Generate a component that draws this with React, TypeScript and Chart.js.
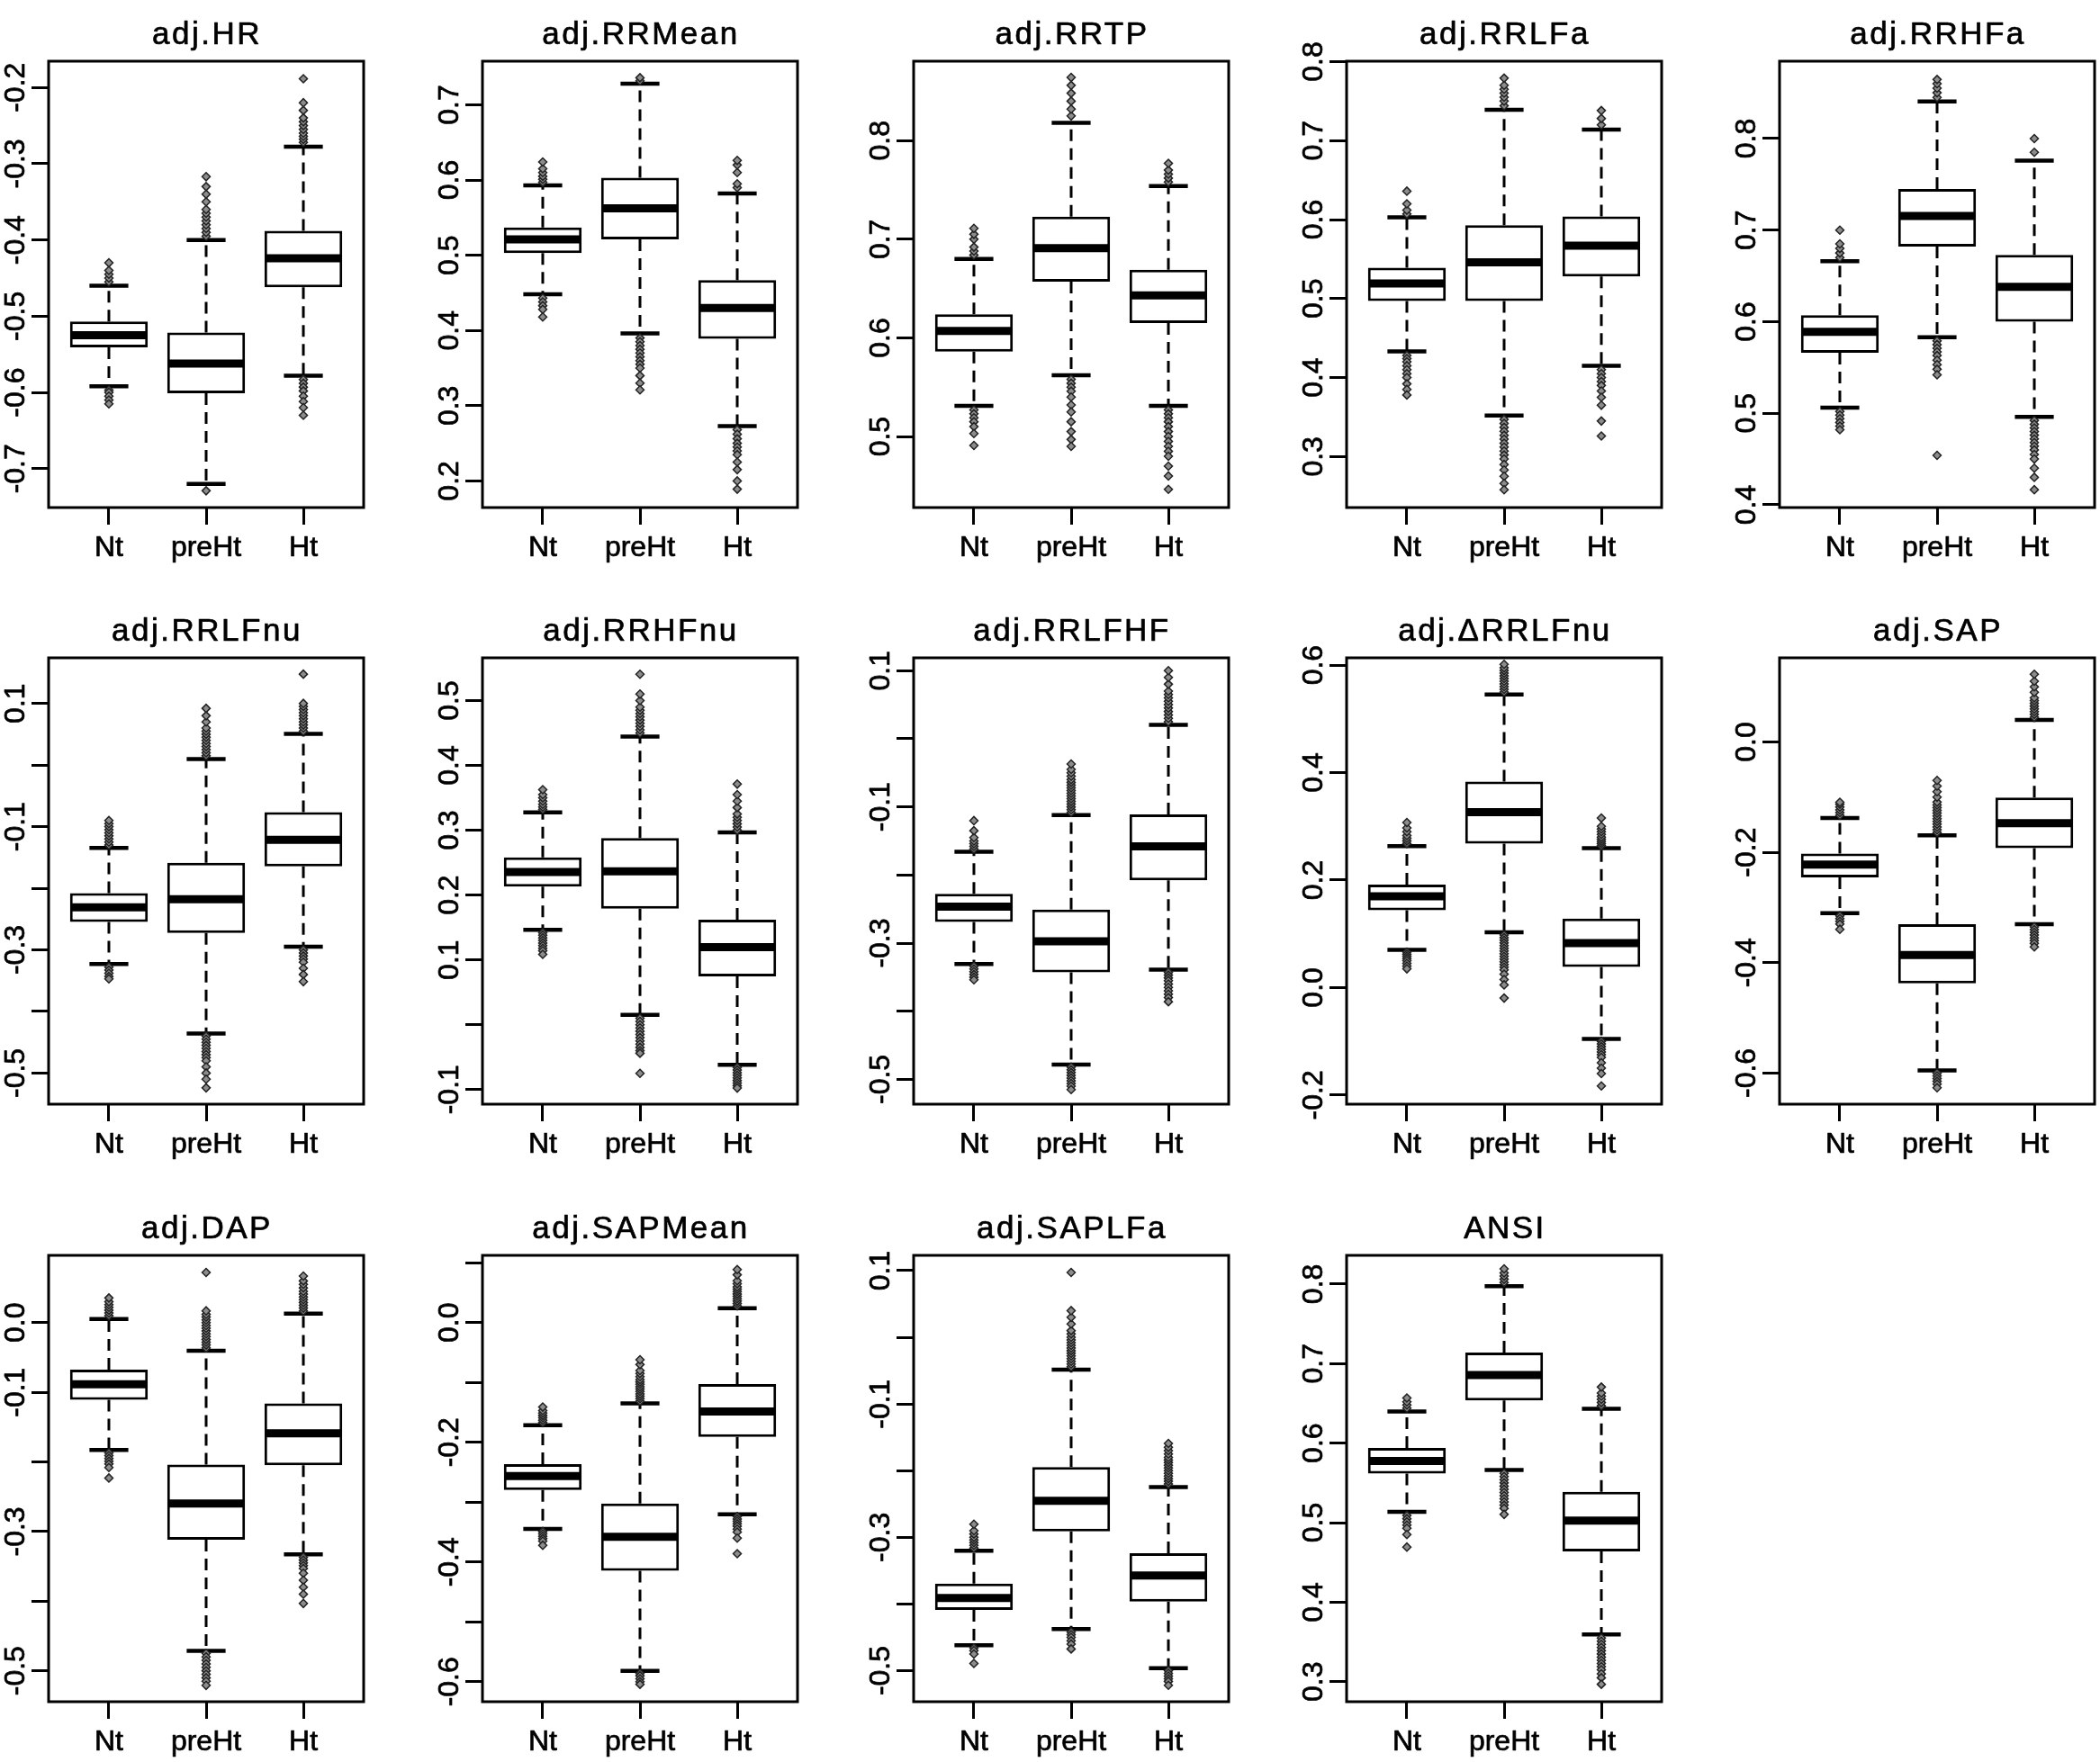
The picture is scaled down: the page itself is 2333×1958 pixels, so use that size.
import { useEffect, useRef } from 'react';
import { Chart, registerables } from 'chart.js';

Chart.register(...registerables);

const groups = ['Nt', 'preHt', 'Ht'];

const titles = [
  'adj.HR', 'adj.RRMean', 'adj.RRTP', 'adj.RRLFa', 'adj.RRHFa',
  'adj.RRLFnu', 'adj.RRHFnu', 'adj.RRLFHF', 'adj.ΔRRLFnu', 'adj.SAP',
  'adj.DAP', 'adj.SAPMean', 'adj.SAPLFa', 'ANSI',
];

const yMin = [-0.751, 0.1646, 0.428, 0.2355, 0.397, -0.5505, -0.1226, -0.5364, -0.217, -0.6564, -0.5444, -0.6334, -0.5465, 0.2749];
const yMax = [-0.1655, 0.758, 0.8805, 0.8005, 0.8845, 0.174, 0.566, 0.1188, 0.6136, 0.1525, 0.0967, 0.1125, 0.1229, 0.8361];

const yTicks = [
  [-0.7, -0.6, -0.5, -0.4, -0.3, -0.2],
  [0.2, 0.3, 0.4, 0.5, 0.6, 0.7],
  [0.5, 0.6, 0.7, 0.8],
  [0.3, 0.4, 0.5, 0.6, 0.7, 0.8],
  [0.4, 0.5, 0.6, 0.7, 0.8],
  [-0.5, -0.4, -0.3, -0.2, -0.1, 0, 0.1],
  [-0.1, 0, 0.1, 0.2, 0.3, 0.4, 0.5],
  [-0.5, -0.4, -0.3, -0.2, -0.1, 0, 0.1],
  [-0.2, 0, 0.2, 0.4, 0.6],
  [-0.6, -0.4, -0.2, 0],
  [-0.5, -0.4, -0.3, -0.2, -0.1, 0],
  [-0.6, -0.5, -0.4, -0.3, -0.2, -0.1, 0, 0.1],
  [-0.5, -0.4, -0.3, -0.2, -0.1, 0, 0.1],
  [0.3, 0.4, 0.5, 0.6, 0.7, 0.8],
];

const yTickLabels = [
  [-0.7, -0.6, -0.5, -0.4, -0.3, -0.2],
  [0.2, 0.3, 0.4, 0.5, 0.6, 0.7],
  [0.5, 0.6, 0.7, 0.8],
  [0.3, 0.4, 0.5, 0.6, 0.7, 0.8],
  [0.4, 0.5, 0.6, 0.7, 0.8],
  [-0.5, -0.3, -0.1, 0.1],
  [-0.1, 0.1, 0.2, 0.3, 0.4, 0.5],
  [-0.5, -0.3, -0.1, 0.1],
  [-0.2, 0, 0.2, 0.4, 0.6],
  [-0.6, -0.4, -0.2, 0],
  [-0.5, -0.3, -0.1, 0],
  [-0.6, -0.4, -0.2, 0],
  [-0.5, -0.3, -0.1, 0.1],
  [0.3, 0.4, 0.5, 0.6, 0.7, 0.8],
];

// per panel: [Nt, preHt, Ht]
const lowerWhisker = [
  [-0.592, -0.72, -0.578],
  [0.448, 0.396, 0.273],
  [0.531, 0.562, 0.531],
  [0.433, 0.352, 0.415],
  [0.506, 0.583, 0.496],
  [-0.323, -0.436, -0.295],
  [0.1463, 0.0153, -0.062],
  [-0.3307, -0.4784, -0.3388],
  [0.0703, 0.103, -0.0958],
  [-0.3103, -0.5954, -0.3302],
  [-0.1829, -0.4713, -0.3328],
  [-0.3447, -0.5818, -0.3204],
  [-0.4619, -0.4374, -0.4963],
  [0.5136, 0.5662, 0.3595],
];

const lowerQuartile = [
  [-0.541, -0.601, -0.462],
  [0.503, 0.521, 0.389],
  [0.586, 0.657, 0.615],
  [0.497, 0.497, 0.528],
  [0.566, 0.682, 0.6],
  [-0.2547, -0.2725, -0.1644],
  [0.213, 0.1791, 0.0746],
  [-0.269, -0.343, -0.2077],
  [0.1438, 0.2677, 0.0383],
  [-0.2453, -0.4376, -0.1923],
  [-0.1108, -0.3119, -0.2048],
  [-0.2796, -0.4146, -0.1909],
  [-0.409, -0.2912, -0.3965],
  [0.5617, 0.6536, 0.4638],
];

const medians = [
  [-0.525, -0.562, -0.424],
  [0.521, 0.5625, 0.43],
  [0.607, 0.691, 0.643],
  [0.519, 0.546, 0.567],
  [0.589, 0.7155, 0.638],
  [-0.231, -0.218, -0.1216],
  [0.2356, 0.2367, 0.1198],
  [-0.2464, -0.2974, -0.1578],
  [0.1697, 0.3263, 0.0826],
  [-0.2221, -0.3859, -0.1472],
  [-0.0883, -0.2597, -0.1588],
  [-0.2565, -0.358, -0.1483],
  [-0.391, -0.2453, -0.3572],
  [0.5777, 0.6856, 0.5027],
];

const upperQuartile = [
  [-0.507, -0.5215, -0.388],
  [0.537, 0.603, 0.467],
  [0.624, 0.723, 0.669],
  [0.539, 0.593, 0.604],
  [0.607, 0.745, 0.673],
  [-0.2078, -0.1585, -0.0765],
  [0.2582, 0.2881, 0.1621],
  [-0.2276, -0.2507, -0.111],
  [0.1915, 0.3835, 0.1282],
  [-0.2022, -0.3302, -0.1008],
  [-0.0674, -0.2038, -0.116],
  [-0.2365, -0.3021, -0.1027],
  [-0.3692, -0.1946, -0.3239],
  [0.5941, 0.714, 0.5388],
];

const upperWhisker = [
  [-0.46, -0.4, -0.2775],
  [0.593, 0.728, 0.582],
  [0.68, 0.818, 0.754],
  [0.603, 0.739, 0.714],
  [0.666, 0.8406, 0.776],
  [-0.1347, 0.0097, 0.0507],
  [0.3277, 0.4446, 0.2966],
  [-0.1658, -0.1121, 0.0205],
  [0.263, 0.5455, 0.2596],
  [-0.1379, -0.1691, 0.0398],
  [0.0052, -0.0402, 0.0131],
  [-0.1714, -0.135, 0.0243],
  [-0.32, -0.0484, -0.2246],
  [0.6399, 0.7973, 0.6431],
];

const highOutliers = [
  [
    [-0.455, -0.45, -0.445, -0.44, -0.43],
    [-0.395, -0.39, -0.385, -0.38, -0.375, -0.37, -0.365, -0.36, -0.35, -0.34, -0.33, -0.317],
    [-0.272, -0.268, -0.264, -0.26, -0.255, -0.25, -0.245, -0.24, -0.23, -0.22, -0.1885],
  ],
  [
    [0.597, 0.601, 0.605, 0.61, 0.615, 0.624],
    [0.732, 0.736],
    [0.59, 0.595, 0.61, 0.62, 0.626],
  ],
  [
    [0.684, 0.688, 0.692, 0.7, 0.705, 0.711],
    [0.825, 0.832, 0.84, 0.848, 0.856, 0.864],
    [0.758, 0.762, 0.766, 0.77, 0.777],
  ],
  [
    [0.607, 0.612, 0.62, 0.636],
    [0.744, 0.75, 0.755, 0.76, 0.765, 0.77, 0.779],
    [0.72, 0.728, 0.738],
  ],
  [
    [0.67, 0.675, 0.68, 0.685, 0.7],
    [0.845, 0.85, 0.855, 0.86, 0.8645],
    [0.785, 0.8],
  ],
  [
    [-0.13, -0.125, -0.12, -0.115, -0.11, -0.105, -0.1, -0.095, -0.09],
    [0.015, 0.02, 0.025, 0.03, 0.035, 0.04, 0.045, 0.05, 0.055, 0.06, 0.07, 0.08, 0.092],
    [0.055, 0.06, 0.065, 0.07, 0.075, 0.08, 0.085, 0.09, 0.095, 0.1, 0.1475],
  ],
  [
    [0.332, 0.336, 0.34, 0.345, 0.35, 0.355, 0.3627],
    [0.45, 0.455, 0.46, 0.465, 0.47, 0.475, 0.48, 0.485, 0.49, 0.5, 0.51, 0.5407],
    [0.3, 0.305, 0.31, 0.315, 0.32, 0.325, 0.335, 0.345, 0.355, 0.3712],
  ],
  [
    [-0.162, -0.158, -0.154, -0.15, -0.145, -0.135, -0.1202],
    [-0.108, -0.104, -0.1, -0.096, -0.092, -0.088, -0.084, -0.08, -0.076, -0.072, -0.068, -0.064, -0.06, -0.055, -0.05, -0.045, -0.037],
    [0.025, 0.03, 0.035, 0.04, 0.045, 0.05, 0.055, 0.06, 0.065, 0.07, 0.08, 0.09, 0.1],
  ],
  [
    [0.268, 0.273, 0.278, 0.283, 0.29, 0.297, 0.3072],
    [0.55, 0.555, 0.56, 0.565, 0.57, 0.575, 0.58, 0.585, 0.59, 0.595, 0.6014],
    [0.264, 0.268, 0.272, 0.276, 0.28, 0.285, 0.29, 0.295, 0.3, 0.3154],
  ],
  [
    [-0.133, -0.128, -0.123, -0.118, -0.113, -0.1094],
    [-0.164, -0.159, -0.154, -0.149, -0.144, -0.139, -0.134, -0.129, -0.124, -0.119, -0.114, -0.109, -0.1, -0.09, -0.08, -0.0696],
    [0.045, 0.05, 0.055, 0.06, 0.065, 0.07, 0.075, 0.08, 0.09, 0.1, 0.11, 0.1227],
  ],
  [
    [0.01, 0.014, 0.018, 0.022, 0.026, 0.03, 0.0355],
    [-0.036, -0.032, -0.028, -0.024, -0.02, -0.016, -0.012, -0.008, -0.004, 0, 0.004, 0.008, 0.012, 0.017, 0.0721],
    [0.017, 0.021, 0.025, 0.029, 0.033, 0.037, 0.041, 0.045, 0.05, 0.055, 0.06, 0.0669],
  ],
  [
    [-0.167, -0.163, -0.159, -0.155, -0.151, -0.147, -0.141],
    [-0.131, -0.127, -0.123, -0.119, -0.115, -0.111, -0.107, -0.103, -0.099, -0.095, -0.09, -0.085, -0.08, -0.07, -0.062],
    [0.028, 0.032, 0.036, 0.04, 0.044, 0.048, 0.052, 0.056, 0.06, 0.065, 0.07, 0.08, 0.0888],
  ],
  [
    [-0.316, -0.312, -0.308, -0.304, -0.3, -0.295, -0.29, -0.2803],
    [-0.044, -0.04, -0.036, -0.032, -0.028, -0.024, -0.02, -0.016, -0.012, -0.008, -0.004, 0, 0.005, 0.01, 0.02, 0.03, 0.04, 0.0973],
    [-0.22, -0.216, -0.212, -0.208, -0.204, -0.2, -0.196, -0.192, -0.188, -0.184, -0.18, -0.175, -0.17, -0.165, -0.1591],
  ],
  [
    [0.644, 0.648, 0.652, 0.6568],
    [0.802, 0.806, 0.81, 0.814, 0.8192],
    [0.647, 0.651, 0.655, 0.659, 0.663, 0.6705],
  ],
];

const lowOutliers = [
  [
    [-0.597, -0.6, -0.605, -0.61, -0.615],
    [-0.729],
    [-0.583, -0.588, -0.593, -0.598, -0.605, -0.612, -0.62, -0.63],
  ],
  [
    [0.443, 0.438, 0.433, 0.428, 0.418],
    [0.39, 0.385, 0.38, 0.375, 0.37, 0.365, 0.36, 0.355, 0.35, 0.34, 0.33, 0.321],
    [0.268, 0.262, 0.256, 0.25, 0.245, 0.24, 0.235, 0.225, 0.215, 0.2, 0.189],
  ],
  [
    [0.527, 0.523, 0.519, 0.515, 0.51, 0.503, 0.491],
    [0.558, 0.554, 0.55, 0.546, 0.54, 0.532, 0.525, 0.515, 0.505, 0.497, 0.49],
    [0.527, 0.523, 0.519, 0.515, 0.51, 0.505, 0.5, 0.495, 0.49, 0.485, 0.48, 0.47, 0.46, 0.4465],
  ],
  [
    [0.428, 0.424, 0.42, 0.415, 0.41, 0.405, 0.4, 0.392, 0.385, 0.378],
    [0.347, 0.342, 0.337, 0.332, 0.327, 0.322, 0.317, 0.312, 0.307, 0.302, 0.297, 0.29, 0.283, 0.275, 0.266, 0.258],
    [0.41, 0.405, 0.4, 0.395, 0.39, 0.383, 0.375, 0.365, 0.345, 0.326],
  ],
  [
    [0.502, 0.498, 0.494, 0.49, 0.486, 0.482],
    [0.579, 0.575, 0.571, 0.567, 0.563, 0.558, 0.553, 0.548, 0.542, 0.454],
    [0.492, 0.488, 0.484, 0.48, 0.476, 0.472, 0.468, 0.464, 0.46, 0.455, 0.45, 0.44, 0.43, 0.4165],
  ],
  [
    [-0.328, -0.333, -0.338, -0.343, -0.347],
    [-0.44, -0.445, -0.45, -0.455, -0.46, -0.465, -0.47, -0.475, -0.48, -0.49, -0.5, -0.51, -0.524],
    [-0.3, -0.305, -0.31, -0.315, -0.32, -0.33, -0.34, -0.3516],
  ],
  [
    [0.142, 0.138, 0.134, 0.13, 0.126, 0.122, 0.118, 0.114, 0.1085],
    [0.01, 0.005, 0, -0.005, -0.01, -0.015, -0.02, -0.025, -0.03, -0.035, -0.04, -0.044, -0.0751],
    [-0.066, -0.07, -0.074, -0.078, -0.082, -0.086, -0.09, -0.094, -0.0977],
  ],
  [
    [-0.334, -0.338, -0.342, -0.346, -0.35, -0.3538],
    [-0.482, -0.486, -0.49, -0.494, -0.498, -0.502, -0.506, -0.51, -0.515],
    [-0.343, -0.347, -0.351, -0.355, -0.36, -0.365, -0.37, -0.375, -0.38, -0.386],
  ],
  [
    [0.066, 0.062, 0.058, 0.054, 0.05, 0.045, 0.04, 0.0349],
    [0.098, 0.093, 0.088, 0.083, 0.078, 0.073, 0.068, 0.063, 0.058, 0.053, 0.048, 0.043, 0.038, 0.033, 0.025, 0.015, 0.005, -0.0196],
    [-0.1, -0.105, -0.11, -0.115, -0.12, -0.125, -0.13, -0.14, -0.15, -0.16, -0.183],
  ],
  [
    [-0.315, -0.32, -0.325, -0.33, -0.3395],
    [-0.6, -0.605, -0.61, -0.615, -0.62, -0.6265],
    [-0.335, -0.34, -0.345, -0.35, -0.355, -0.36, -0.365, -0.3713],
  ],
  [
    [-0.187, -0.191, -0.195, -0.199, -0.203, -0.208, -0.2231],
    [-0.475, -0.48, -0.485, -0.49, -0.495, -0.5, -0.505, -0.51, -0.515, -0.5209],
    [-0.337, -0.341, -0.345, -0.349, -0.353, -0.36, -0.37, -0.38, -0.39, -0.4033],
  ],
  [
    [-0.349, -0.353, -0.357, -0.361, -0.365, -0.372],
    [-0.586, -0.59, -0.595, -0.6, -0.6043],
    [-0.324, -0.328, -0.332, -0.336, -0.34, -0.345, -0.35, -0.36, -0.386],
  ],
  [
    [-0.466, -0.47, -0.475, -0.4892],
    [-0.442, -0.446, -0.45, -0.455, -0.46, -0.4674],
    [-0.5, -0.504, -0.508, -0.512, -0.516, -0.5219],
  ],
  [
    [0.509, 0.505, 0.501, 0.497, 0.493, 0.485, 0.4693],
    [0.562, 0.558, 0.554, 0.55, 0.546, 0.542, 0.538, 0.534, 0.53, 0.526, 0.522, 0.518, 0.5104],
    [0.355, 0.351, 0.347, 0.343, 0.339, 0.335, 0.331, 0.327, 0.323, 0.319, 0.315, 0.31, 0.305, 0.2968],
  ],
];

// panel frame placement on the page
const colLeft = [54, 536, 1015, 1496, 1977];
const rowTop = [68, 731, 1395];
const FRAME_W = 354;
const FRAME_H = 496;
const PAD_LEFT = 54;
const PAD_TOP = 68;
const AXIS_BOTTOM = 66;
const FONT = '"Liberation Sans", Arial, sans-serif';

function line(ctx: CanvasRenderingContext2D, x1: number, y1: number, x2: number, y2: number) {
  ctx.beginPath();
  ctx.moveTo(x1, y1);
  ctx.lineTo(x2, y2);
  ctx.stroke();
}

// slightly heavier text, closer to the reference rendering
function heavyText(ctx: CanvasRenderingContext2D, s: string, x: number, y: number) {
  ctx.fillText(s, x, y);
  ctx.strokeText(s, x, y);
}

function makeBoxPlugin(p: number) {
  return {
    id: 'boxParts',
    beforeDatasetsDraw(chart: any) {
      const { ctx } = chart;
      const xs = chart.scales.x;
      const ys = chart.scales.y;
      ctx.save();
      ctx.strokeStyle = '#000';
      groups.forEach((_, i) => {
        const cx = xs.getPixelForValue(i + 1);
        const capL = xs.getPixelForValue(i + 0.8);
        const capR = xs.getPixelForValue(i + 1.2);
        const yUq = ys.getPixelForValue(upperQuartile[p][i]);
        const yLq = ys.getPixelForValue(lowerQuartile[p][i]);
        const yUw = ys.getPixelForValue(upperWhisker[p][i]);
        const yLw = ys.getPixelForValue(lowerWhisker[p][i]);
        ctx.lineWidth = 3;
        ctx.setLineDash([13, 8]);
        line(ctx, cx, yUq, cx, yUw);
        line(ctx, cx, yLq, cx, yLw);
        ctx.setLineDash([]);
        ctx.lineWidth = 4.5;
        line(ctx, capL, yUw, capR, yUw);
        line(ctx, capL, yLw, capR, yLw);
      });
      ctx.restore();
    },
    afterDatasetsDraw(chart: any) {
      const { ctx } = chart;
      const xs = chart.scales.x;
      const ys = chart.scales.y;
      ctx.save();
      ctx.strokeStyle = '#000';
      ctx.lineWidth = 9;
      groups.forEach((_, i) => {
        const y = ys.getPixelForValue(medians[p][i]);
        line(ctx, xs.getPixelForValue(i + 0.6) + 1, y, xs.getPixelForValue(i + 1.4) - 1, y);
      });
      ctx.restore();
    },
    afterDraw(chart: any) {
      const { ctx, chartArea } = chart;
      const xs = chart.scales.x;
      const ys = chart.scales.y;
      ctx.save();
      ctx.strokeStyle = '#000';
      ctx.lineWidth = 3;
      ctx.strokeRect(chartArea.left, chartArea.top, chartArea.right - chartArea.left, chartArea.bottom - chartArea.top);

      ctx.fillStyle = '#000';
      ctx.strokeStyle = '#000';
      ctx.lineWidth = 0.7;
      ctx.lineJoin = 'round';

      // title
      ctx.font = `35px ${FONT}`;
      (ctx as any).letterSpacing = '2.5px';
      ctx.textAlign = 'center';
      ctx.textBaseline = 'alphabetic';
      heavyText(ctx, titles[p], (chartArea.left + chartArea.right) / 2 + 1, chartArea.top - 19.5);
      (ctx as any).letterSpacing = '0px';

      // x labels
      ctx.font = `32px ${FONT}`;
      groups.forEach((g, i) => {
        heavyText(ctx, g, xs.getPixelForValue(i + 1), chartArea.bottom + 54);
      });

      // rotated y labels
      yTickLabels[p].forEach((v) => {
        const y = ys.getPixelForValue(v);
        ctx.save();
        ctx.translate(chartArea.left - 27, y);
        ctx.rotate(-Math.PI / 2);
        heavyText(ctx, v.toFixed(1), 0, 0);
        ctx.restore();
      });
      ctx.restore();
    },
  };
}

function BoxPanel({ p }: { p: number }) {
  const canvasRef = useRef<HTMLCanvasElement>(null);

  useEffect(() => {
    if (!canvasRef.current) return;

    const outlierPoints: { x: number; y: number }[] = [];
    groups.forEach((_, i) => {
      highOutliers[p][i].forEach((v) => outlierPoints.push({ x: i + 1, y: v }));
      lowOutliers[p][i].forEach((v) => outlierPoints.push({ x: i + 1, y: v }));
    });

    const tickMarks = {
      drawOnChartArea: false,
      drawTicks: true,
      tickLength: 19,
      lineWidth: 3,
      color: '#000',
      offset: false,
    };

    const chart = new Chart(canvasRef.current, {
      type: 'bar',
      data: {
        datasets: [
          {
            type: 'scatter',
            data: outlierPoints,
            pointStyle: 'rectRot',
            pointRadius: 4.5,
            pointBackgroundColor: '#8c8c8c',
            pointBorderColor: '#222',
            pointBorderWidth: 1.5,
            order: 0,
          } as any,
          {
            type: 'bar',
            data: groups.map((_, i) => ({ x: i + 1, y: [lowerQuartile[p][i], upperQuartile[p][i]] })),
            backgroundColor: '#fff',
            borderColor: '#000',
            borderWidth: 3,
            borderSkipped: false,
            barPercentage: 0.8,
            categoryPercentage: 1,
            order: 1,
          } as any,
        ],
      },
      options: {
        responsive: false,
        animation: false,
        layout: { padding: { top: PAD_TOP, left: 0, right: 2, bottom: 0 } },
        plugins: {
          legend: { display: false },
          tooltip: { enabled: false },
        },
        scales: {
          x: {
            type: 'linear',
            min: 0.38,
            max: 3.62,
            offset: false,
            afterBuildTicks: (s: any) => {
              s.ticks = groups.map((_, i) => ({ value: i + 1 }));
            },
            afterFit: (s: any) => {
              s.height = AXIS_BOTTOM;
            },
            ticks: { display: false },
            grid: tickMarks,
            border: { display: false },
          },
          y: {
            type: 'linear',
            min: yMin[p],
            max: yMax[p],
            beginAtZero: false,
            afterBuildTicks: (s: any) => {
              s.ticks = yTicks[p].map((v) => ({ value: v }));
            },
            afterFit: (s: any) => {
              s.width = PAD_LEFT;
            },
            ticks: { display: false },
            grid: tickMarks,
            border: { display: false },
          },
        },
      } as any,
      plugins: [makeBoxPlugin(p)],
    });

    return () => chart.destroy();
  }, [p]);

  const left = colLeft[p % 5] - PAD_LEFT;
  const top = rowTop[Math.floor(p / 5)] - PAD_TOP;

  return (
    <canvas
      ref={canvasRef}
      width={PAD_LEFT + FRAME_W + 2}
      height={PAD_TOP + FRAME_H + AXIS_BOTTOM}
      style={{ position: 'absolute', left, top }}
    />
  );
}

export default function App() {
  return (
    <div
      style={{
        position: 'absolute',
        left: 0,
        top: 0,
        width: 2333,
        height: 1958,
        overflow: 'hidden',
        background: '#fff',
      }}
    >
      {titles.map((_, p) => (
        <BoxPanel key={p} p={p} />
      ))}
    </div>
  );
}
